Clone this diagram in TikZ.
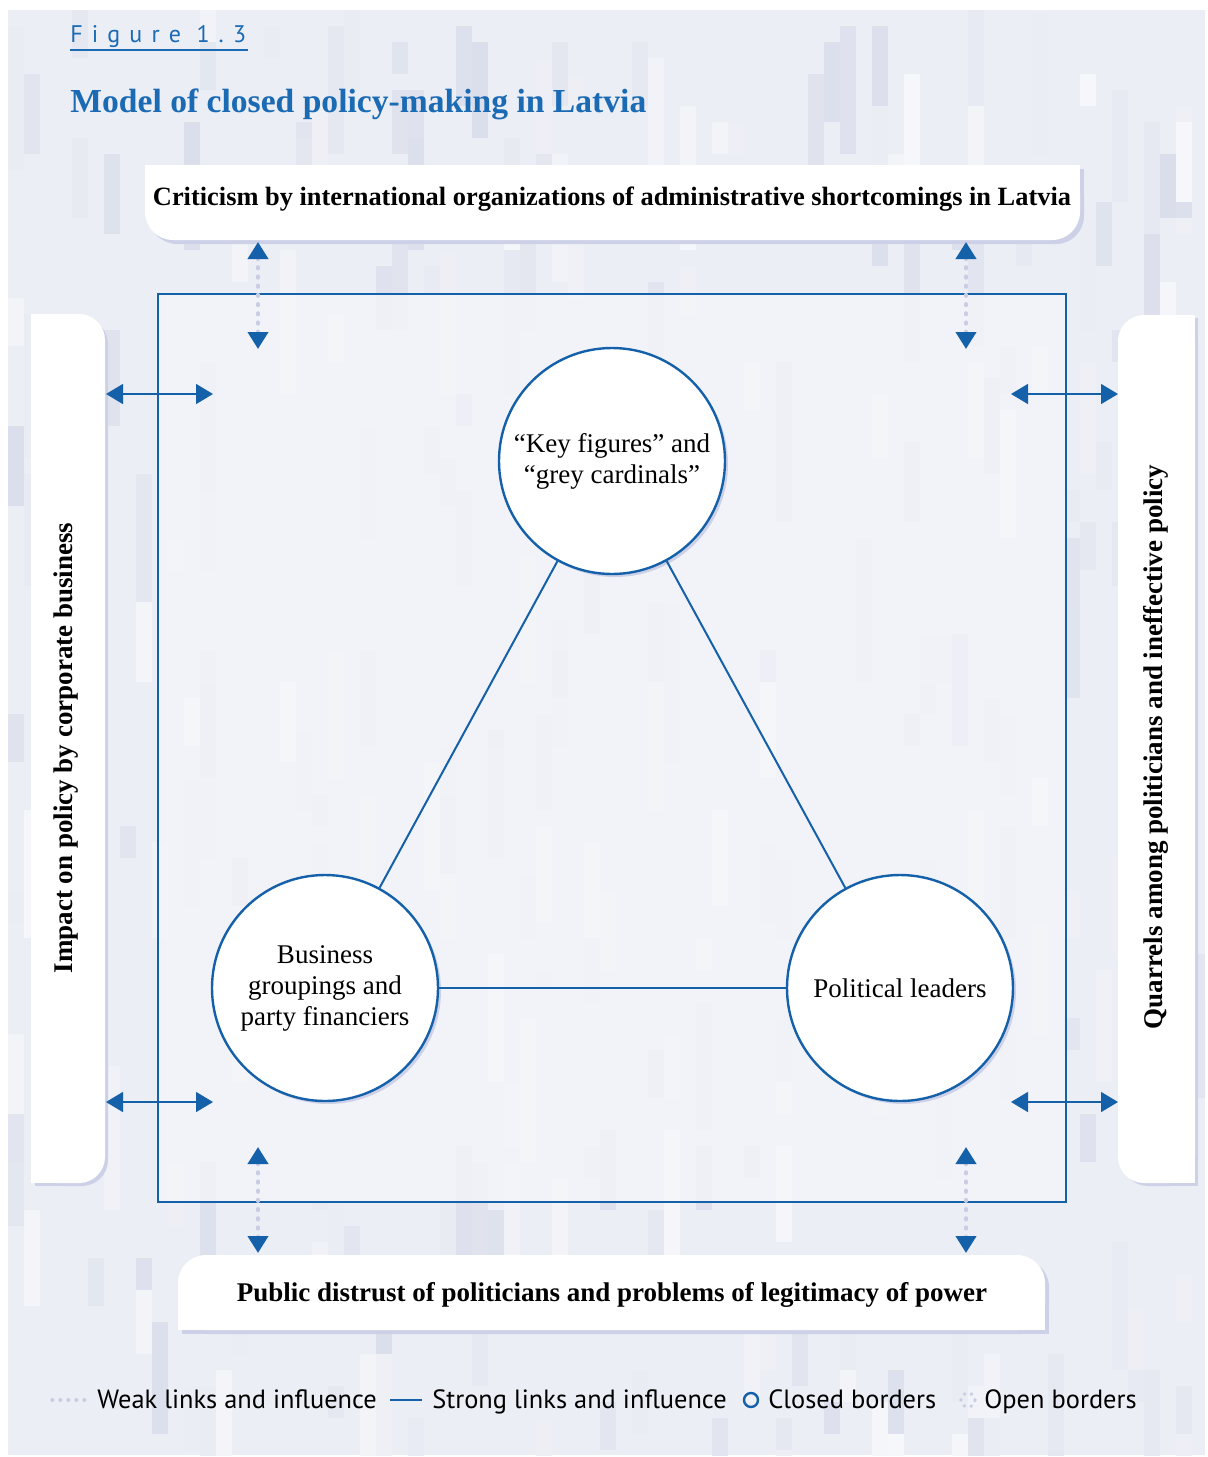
\documentclass[tikz,border=0pt]{standalone}
\usepackage{fontspec}
\setmainfont{Liberation Serif}
\newfontfamily\legendfont{PT Sans}
\newfontfamily\figfont[LetterSpace=38]{PT Sans}
\usetikzlibrary{arrows.meta,shadows}
\definecolor{LinkBlue}{HTML}{1461AA}
\definecolor{TitleBlue}{HTML}{1B6AB4}
\definecolor{ShadeLav}{HTML}{CDD1E7}
\definecolor{DotLav}{HTML}{C9CDE3}
\definecolor{PaperGrey}{HTML}{ECEEF5}
\definecolor{PaperLight}{HTML}{F6F7FA}
\definecolor{InnerGrey}{HTML}{F5F6FA}
\definecolor{StreakLav}{HTML}{DADEEB}

\begin{document}
\begin{tikzpicture}[
  x=0.5pt, y=-0.5pt,
  actor/.style={circle, draw=LinkBlue, line width=1.2pt, fill=white, minimum size=113pt, inner sep=0pt, align=center,
    font=\fontsize{13.5}{15.5}\selectfont,
    drop shadow={shadow xshift=1.5pt, shadow yshift=-1.5pt, fill=ShadeLav, opacity=1}},
  panel/.style={fill=white},
  panelshade/.style={fill=ShadeLav},
  paneltext/.style={font=\bfseries\fontsize{13.5}{16}\selectfont, inner sep=0pt, anchor=base},
  strong/.style={draw=LinkBlue, line width=1pt},
  strongarrow/.style={{Triangle[length=8.5pt,width=10pt]}-{Triangle[length=8.5pt,width=10pt]}, draw=LinkBlue, fill=LinkBlue, line width=0.8pt},
  weakarrow/.style={{Triangle[length=8.5pt,width=10pt,color=LinkBlue]}-{Triangle[length=8.5pt,width=10pt,color=LinkBlue]},
    draw=DotLav, line width=2pt, line cap=round, dash pattern=on 0.6pt off 4pt},
  legendtext/.style={font=\legendfont\fontsize{13.2}{15}\selectfont, inner sep=0pt, anchor=base west}
]
\useasboundingbox (0,0) rectangle (1208,1457);
% paper with pale streaks
\fill[PaperGrey] (8,10) rectangle (1205,1455);
\begin{scope}
  \clip (8,10) rectangle (1205,1455);
  \pgfmathsetseed{42}
  \foreach \i in {1,...,320}{
    \pgfmathsetmacro{\tx}{8+16*random(0,74)}
    \pgfmathsetmacro{\ty}{10+16*random(0,90)}
    \pgfmathsetmacro{\th}{16*random(2,9)}
    \pgfmathsetmacro{\tp}{random(0,100)}
    \fill[StreakLav!\tp!PaperLight] (\tx,\ty) rectangle ++(16,\th);
  }
\end{scope}
\fill[InnerGrey, opacity=0.75] (158,294) rectangle (1066,1202);

% heading
\node[font=\figfont\fontsize{12}{14}\selectfont, text=TitleBlue, inner sep=0pt, anchor=base west] (fig) at (70,42) {Figure 1.3};
\draw[TitleBlue, line width=0.6pt] (70,50) -- (248,50);
\node[font=\bfseries\fontsize{16.8}{19}\selectfont, text=TitleBlue, inner sep=0pt, anchor=base west] (title) at (70,112) {Model of closed policy-making in Latvia};

% outer panels, square corners patched over the rounded ones
\fill[panelshade, rounded corners=14pt] (149,169) rectangle (1084,244);
\fill[panelshade] (149,169) rectangle (1084,206);
\fill[panel, rounded corners=14pt] (145,165) rectangle (1080,240);
\fill[panel] (145,165) rectangle (1080,202);

\fill[panelshade, rounded corners=14pt] (182,1259) rectangle (1049,1334);
\fill[panelshade] (182,1296) rectangle (1049,1334);
\fill[panel, rounded corners=14pt] (178,1255) rectangle (1045,1330);
\fill[panel] (178,1292) rectangle (1045,1330);

\fill[panelshade, rounded corners=13pt] (35,318) rectangle (108,1186);
\fill[panelshade] (35,318) rectangle (72,1186);
\fill[panel, rounded corners=13pt] (31,314) rectangle (105,1183);
\fill[panel] (31,314) rectangle (70,1183);

\fill[panelshade, rounded corners=13pt] (1122,318) rectangle (1198,1186);
\fill[panelshade] (1160,318) rectangle (1198,1186);
\fill[panel, rounded corners=13pt] (1118,315) rectangle (1195,1183);
\fill[panel] (1156,315) rectangle (1195,1183);

\node[paneltext, font=\bfseries\fontsize{13.2}{16}\selectfont] (critic) at (612,205) {Criticism by international organizations of administrative shortcomings in Latvia};
\node[paneltext] (distrust) at (612,1301) {Public distrust of politicians and problems of legitimacy of power};
\node[paneltext, rotate=90] (impact) at (72,748) {Impact on policy by corporate business};
\node[paneltext, rotate=90] (quarrel) at (1162,747) {Quarrels among politicians and ineffective policy};

% closed border
\draw[LinkBlue, line width=1.2pt] (158,294) rectangle (1066,1202);

% links across the border
\coordinate (tl1) at (258,242);  \coordinate (tl2) at (258,349);
\coordinate (tr1) at (966,242);  \coordinate (tr2) at (966,349);
\coordinate (bl1) at (258,1147); \coordinate (bl2) at (258,1253);
\coordinate (br1) at (966,1147); \coordinate (br2) at (966,1253);
\coordinate (lt1) at (106,394);  \coordinate (lt2) at (213,394);
\coordinate (lb1) at (106,1102); \coordinate (lb2) at (213,1102);
\coordinate (rt1) at (1011,394); \coordinate (rt2) at (1118,394);
\coordinate (rb1) at (1011,1102); \coordinate (rb2) at (1118,1102);

\draw[weakarrow] (tl1) -- (tl2);
\draw[weakarrow] (tr1) -- (tr2);
\draw[weakarrow] (bl1) -- (bl2);
\draw[weakarrow] (br1) -- (br2);
\draw[strongarrow] (lt1) -- (lt2);
\draw[strongarrow] (lb1) -- (lb2);
\draw[strongarrow] (rt1) -- (rt2);
\draw[strongarrow] (rb1) -- (rb2);

% the three actors
\node[actor] (keyfig) at (612,461) {“Key figures” and\\“grey cardinals”};
\node[actor] (business) at (325,988) {Business\\groupings and\\party financiers};
\node[actor] (leaders) at (900,988) {Political leaders};

\draw[strong] (keyfig) -- (business);
\draw[strong] (keyfig) -- (leaders);
\draw[strong] (business) -- (leaders);

% legend
\coordinate (wk1) at (52,1400); \coordinate (wk2) at (85,1400);
\draw[DotLav, line width=1.6pt, line cap=round, dash pattern=on 0.4pt off 3.6pt] (wk1) -- (wk2);
\node[legendtext] (weak) at (97,1408) {Weak links and influence};
\coordinate (st1) at (390,1400); \coordinate (st2) at (422,1400);
\draw[LinkBlue, line width=1.4pt] (st1) -- (st2);
\node[legendtext] (strongtxt) at (432,1408) {Strong links and influence};
\draw[LinkBlue, line width=1.2pt] (751,1400) circle[radius=7];
\node[legendtext] (closed) at (768,1408) {Closed borders};
\draw[DotLav, line width=1.6pt, line cap=round, dash pattern=on 0.4pt off 3.2pt] (968,1400) circle[radius=7];
\node[legendtext] (open) at (984,1408) {Open borders};

\end{tikzpicture}
\end{document}
